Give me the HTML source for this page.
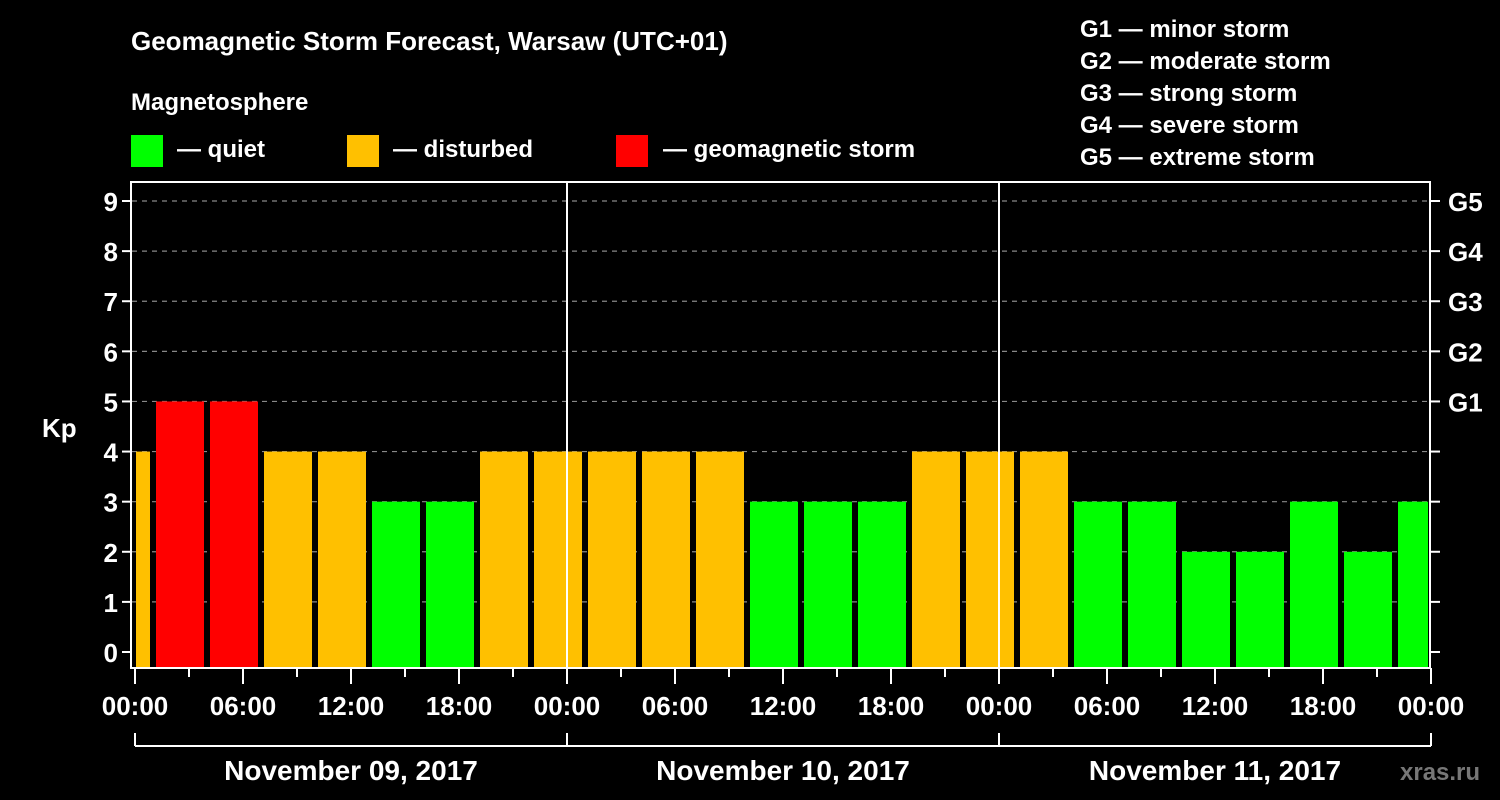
<!DOCTYPE html>
<html><head><meta charset="utf-8"><style>
body{margin:0;background:#000;width:1500px;height:800px;overflow:hidden}
svg{display:block}
text{font-family:"Liberation Sans",sans-serif;font-weight:bold;fill:#fff}
</style></head><body>
<svg id="chart" width="1500" height="800" viewBox="0 0 1500 800">
<rect width="1500" height="800" fill="#000"/>
<text x="131" y="50" font-size="26">Geomagnetic Storm Forecast, Warsaw (UTC+01)</text>
<text x="131" y="110" font-size="24">Magnetosphere</text>
<g>
<rect x="131" y="135" width="32" height="32" fill="#00ff00"/>
<text x="177" y="157" font-size="24">— quiet</text>
<rect x="347" y="135" width="32" height="32" fill="#ffc000"/>
<text x="393" y="157" font-size="24">— disturbed</text>
<rect x="616" y="135" width="32" height="32" fill="#ff0000"/>
<text x="663" y="157" font-size="24">— geomagnetic storm</text>
</g>
<g font-size="24">
<text x="1080" y="37">G1 — minor storm</text>
<text x="1080" y="69">G2 — moderate storm</text>
<text x="1080" y="101">G3 — strong storm</text>
<text x="1080" y="133">G4 — severe storm</text>
<text x="1080" y="165">G5 — extreme storm</text>
</g>
<text x="42" y="437" font-size="26">Kp</text>
<g id="grid"></g><g id="bars"></g><g id="axes"></g>
<text x="1400" y="780" font-size="24" fill="#777" style="fill:#777">xras.ru</text>
</svg>
<script>
const kpValues=[4,5,5,4,4,3,3,4,4,4,4,4,3,3,3,4,4,4,3,3,2,2,3,2,3];
const yTicks=[0,1,2,3,4,5,6,7,8,9];
const gLabels=["","","","","","G1","G2","G3","G4","G5"];
const xTickLabels=["00:00","06:00","12:00","18:00","00:00","06:00","12:00","18:00","00:00","06:00","12:00","18:00","00:00"];
const dayLabels=["November 09, 2017","November 10, 2017","November 11, 2017"];
const NS="http://www.w3.org/2000/svg";
const L=132,R=1430,T=182,B=668,X0=135,PXH=18;
const xH=h=>X0+h*PXH;
const yV=v=>652-50.11*v;
function mk(p,tag,a){const e=document.createElementNS(NS,tag);for(const k in a)e.setAttribute(k,a[k]);p.appendChild(e);return e;}
const grid=document.getElementById('grid'),bars=document.getElementById('bars'),axes=document.getElementById('axes');
yTicks.forEach(v=>{if(v>0){const l=mk(grid,'line',{x1:L,x2:R,y1:yV(v),y2:yV(v),stroke:'#888','stroke-width':1.2,'stroke-dasharray':'5,5'});

}});
kpValues.forEach((v,k)=>{const c=xH(3*k-0.5);let x1=Math.max(c-24,L+4),x2=Math.min(c+24,R-2);
const col=v>=5?'#ff0000':v>=4?'#ffc000':'#00ff00';
const r=mk(bars,'rect',{x:x1,y:yV(v),width:x2-x1,height:B-yV(v),fill:col});

});
[1,2].forEach(d=>{const l=mk(axes,'line',{x1:xH(24*d),x2:xH(24*d),y1:T,y2:B,stroke:'#fff','stroke-width':2});

});
const f=mk(axes,'path',{d:`M${L-1} ${T}H${R}V${B}H${L-1}Z`,fill:'none',stroke:'#fff','stroke-width':2});


yTicks.forEach(v=>{const y=yV(v);
mk(axes,'line',{x1:L-10,x2:L,y1:y,y2:y,stroke:'#fff','stroke-width':2});
mk(axes,'line',{x1:R,x2:R+10,y1:y,y2:y,stroke:'#fff','stroke-width':2});
const t=mk(axes,'text',{x:L-14,y:y+10,'font-size':26,'text-anchor':'end'});t.textContent=v;


if(gLabels[v]){const g=mk(axes,'text',{x:R+18,y:y+10,'font-size':26});g.textContent=gLabels[v];

}});
for(let h=0;h<=72;h+=3){mk(axes,'line',{x1:xH(h),x2:xH(h),y1:B,y2:h%6===0?B+16:B+9,stroke:'#fff','stroke-width':2});}
xTickLabels.forEach((s,i)=>{const t=mk(axes,'text',{x:xH(i*6),y:715,'font-size':26,'text-anchor':'middle'});t.textContent=s;

});
mk(axes,'line',{x1:xH(0),x2:xH(72),y1:746,y2:746,stroke:'#fff','stroke-width':2});
for(let d=0;d<=3;d++)mk(axes,'line',{x1:xH(24*d),x2:xH(24*d),y1:733,y2:746,stroke:'#fff','stroke-width':2});
dayLabels.forEach((s,i)=>{const t=mk(axes,'text',{x:xH(24*i+12),y:780,'font-size':28,'text-anchor':'middle'});t.textContent=s;

});
</script>
</body></html>
